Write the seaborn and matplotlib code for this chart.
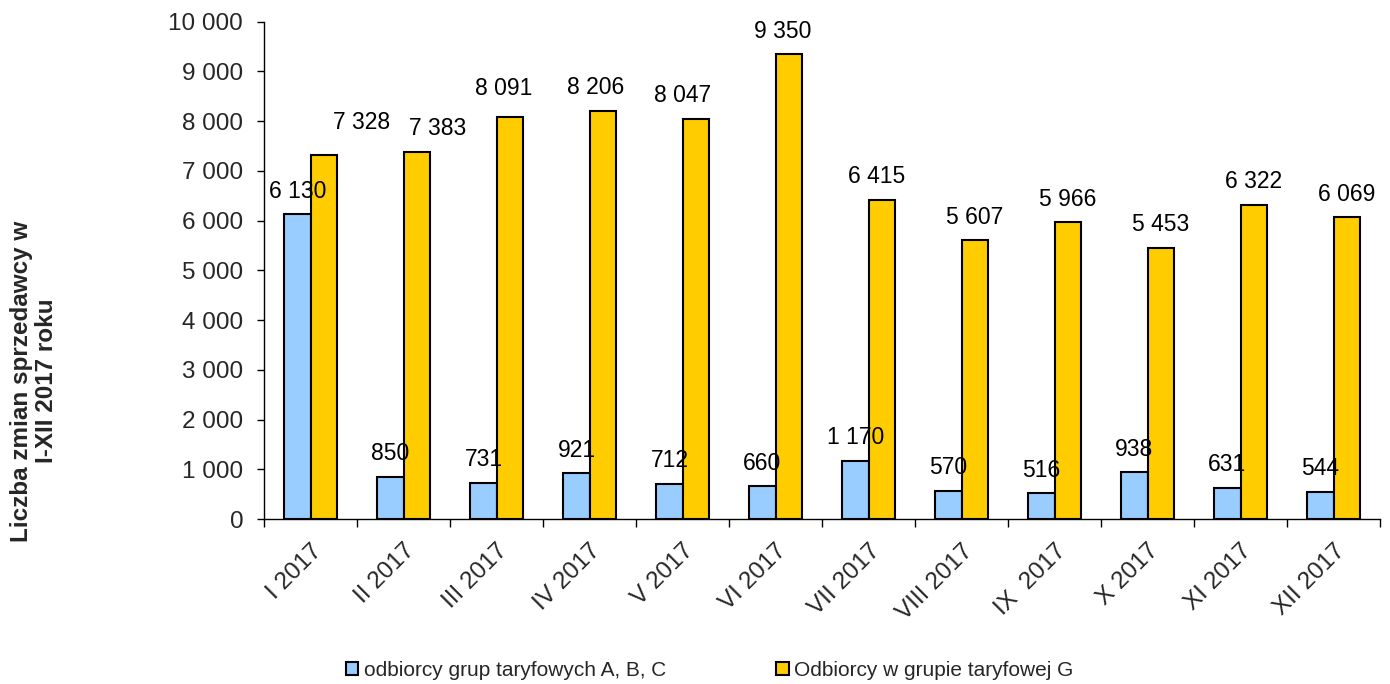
import numpy as np
import pandas as pd
import matplotlib
matplotlib.use("Agg")
import matplotlib.pyplot as plt
import seaborn as sns

# ---- data ----
months = ["I 2017", "II 2017", "III 2017", "IV 2017", "V 2017", "VI 2017",
          "VII 2017", "VIII 2017", "IX  2017", "X 2017", "XI 2017", "XII 2017"]
series_names = ["odbiorcy grup taryfowych A, B, C", "Odbiorcy w grupie taryfowej G"]
abc_values = [6130, 850, 731, 921, 712, 660, 1170, 570, 516, 938, 631, 544]
g_values = [7328, 7383, 8091, 8206, 8047, 9350, 6415, 5607, 5966, 5453, 6322, 6069]
y_ticks = list(range(0, 10001, 1000))
y_label = "Liczba zmian sprzedawcy w\nI-XII 2017 roku"

# ---- style ----
colors = ["#99CCFF", "#FFCC00"]
FONT = ["Liberation Sans", "DejaVu Sans"]

sns.set_style("white")
plt.rcParams["font.family"] = FONT

df = pd.DataFrame({
    "month": months * 2,
    "value": abc_values + g_values,
    "series": [series_names[0]] * len(months) + [series_names[1]] * len(months),
})

fig = plt.figure(figsize=(13.9, 6.84), dpi=100)
ax = fig.add_axes([264 / 1390, 1 - 519 / 684, (1380 - 264) / 1390, (519 - 21.7) / 684])

sns.barplot(data=df, x="month", y="value", hue="series", order=months,
            hue_order=series_names, palette=colors, width=0.56, gap=0,
            edgecolor="black", linewidth=1.5, saturation=1, ax=ax, zorder=2)


def fmt(v):
    return f"{int(v):,}".replace(",", " ")


# label nudges (pixels) for a few labels placed differently in the original
nudges = {(1, 0): (38, 9), (1, 1): (21, 0), (1, 2): (-6, 5), (1, 3): (-7, 0),
          (1, 4): (-13, 0), (1, 5): (-6, 0), (1, 6): (-5, 0)}
for si, cont in enumerate(ax.containers):
    for bi, patch in enumerate(cont.patches):
        h = patch.get_height()
        xc = patch.get_x() + patch.get_width() / 2
        dx, dy = nudges.get((si, bi), (0, 0))
        ax.annotate(fmt(h), (xc, h), xytext=((dx) * 0.72, (23 + dy) * 0.72),
                    textcoords="offset points", ha="center", va="center",
                    fontsize=16.5, color="black", zorder=5)

ax.set_ylim(0, 10000)
ax.set_xlim(-0.5, len(months) - 0.5)
ax.set_yticks(y_ticks)
ax.set_yticklabels([fmt(v) for v in y_ticks], fontsize=17.5)
ax.tick_params(axis="y", direction="out", length=5, width=1, color="black", pad=10, left=True)

ax.set_xticks(np.arange(-0.5, len(months), 1.0))
ax.set_xticklabels([])
ax.tick_params(axis="x", which="major", direction="out", length=6, width=1, color="black", bottom=True)
ax.set_xticks(np.arange(len(months)), minor=True)
ax.set_xticklabels(months, minor=True, rotation=45, ha="right", va="top",
                   rotation_mode="anchor", fontsize=17.5)
ax.tick_params(axis="x", which="minor", length=0, pad=15)

ax.set_xlabel("")
ax.set_ylabel("")
for s in ["top", "right"]:
    ax.spines[s].set_visible(False)
for s in ["left", "bottom"]:
    ax.spines[s].set_color("black")
    ax.spines[s].set_linewidth(1)
ax.grid(False)

fig.text(34 / 1390, 1 - 381 / 684, y_label, rotation=90, ha="center", va="center",
         fontsize=17.5, fontweight="bold", linespacing=1.15, multialignment="center")

handles, labels = ax.get_legend_handles_labels()
if ax.get_legend() is not None:
    ax.get_legend().remove()
fig.legend(handles, labels, loc="center", bbox_to_anchor=(709.5 / 1390, 1 - 670 / 684),
           ncol=2, frameon=False, fontsize=15, handlelength=0.6, handleheight=0.6,
           handletextpad=0.25, columnspacing=5.3, borderpad=0)

fig.savefig("out.png", dpi=100)
